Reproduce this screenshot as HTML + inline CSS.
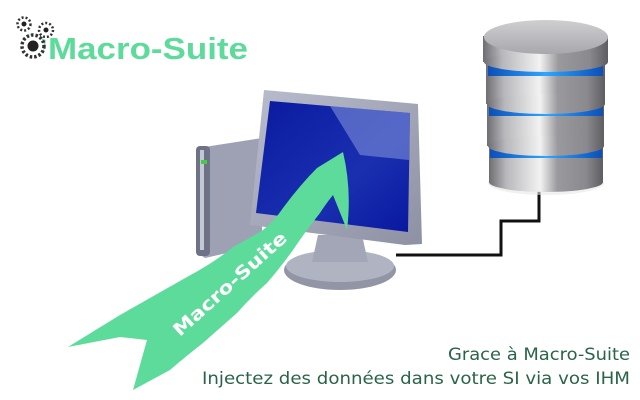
<!DOCTYPE html>
<html><head><meta charset="utf-8"><style>
html,body{margin:0;padding:0;background:#fff;width:640px;height:400px;overflow:hidden}
</style></head><body>
<svg width="640" height="400" viewBox="0 0 640 400" xmlns="http://www.w3.org/2000/svg">
<defs>
<linearGradient id="cyl" x1="0" x2="1" y1="0" y2="0">
<stop offset="0" stop-color="#6e6e72"/><stop offset=".15" stop-color="#b8b8bc"/><stop offset=".45" stop-color="#f2f2f2"/><stop offset=".6" stop-color="#9a9a9e"/><stop offset=".85" stop-color="#8a8a8e"/><stop offset="1" stop-color="#5e5e62"/>
</linearGradient>
<linearGradient id="top" x1="0" x2="0" y1="0" y2="1"><stop offset="0" stop-color="#cfcfd2"/><stop offset="1" stop-color="#a8a8ac"/></linearGradient>
<linearGradient id="blu" x1="0" x2="1"><stop offset="0" stop-color="#0c4fb8"/><stop offset=".5" stop-color="#2fa6ff"/><stop offset="1" stop-color="#0c4fb8"/></linearGradient>
<linearGradient id="scr" x1="0" x2="1" y1="0" y2="1"><stop offset="0" stop-color="#0a1aa0"/><stop offset=".6" stop-color="#1a2fb0"/><stop offset="1" stop-color="#0818a0"/></linearGradient>
<linearGradient id="frm" x1="0" x2="1" y1="0" y2="1"><stop offset="0" stop-color="#b8bccc"/><stop offset="1" stop-color="#8d91a3"/></linearGradient>
</defs>
<!-- logo gears -->
<path d="M30 34 L46 40 L44 52 L26 44Z" fill="#5ddb9a" opacity=".8"/>
<g fill="#222">
<circle cx="33" cy="46" r="11" fill="#fff" stroke="#333" stroke-width="3.5" stroke-dasharray="2.5 2"/>
<circle cx="33" cy="46" r="5.5"/>
<circle cx="24" cy="24" r="6.5" fill="#fff" stroke="#333" stroke-width="2.5" stroke-dasharray="2 2"/>
<circle cx="24" cy="24" r="2.5"/>
<circle cx="46" cy="30" r="7" fill="#fff" stroke="#333" stroke-width="2.5" stroke-dasharray="2 2"/>
<circle cx="46" cy="30" r="2.5"/>
</g>
<text x="48" y="59" font-family="Liberation Sans, sans-serif" font-weight="bold" font-size="31" fill="#5ddb9a" textLength="200" lengthAdjust="spacingAndGlyphs">Macro-Suite</text>
<!-- connector -->
<path d="M396 255 H501 V221 H539 V190" fill="none" stroke="#111" stroke-width="3"/>
<!-- tower -->
<path d="M198 148 L262 138 L262 245 L205 258 L196 252Z" fill="#9da1b3"/>
<rect x="196" y="146" width="14" height="110" rx="4" fill="#6d7286"/>
<rect x="200" y="150" width="4" height="100" fill="#c4c7d4"/>
<rect x="201" y="160" width="6" height="4" fill="#4c4"/>
<!-- stand -->
<ellipse cx="340" cy="270" rx="56" ry="20" fill="#9295a6"/>
<ellipse cx="340" cy="266" rx="54" ry="16" fill="#b0b3c2"/>
<path d="M318 235 L362 235 L368 262 L312 262Z" fill="#a3a6b6"/>
<!-- monitor -->
<path d="M264 90 L418 104 L422 244 L405 245 L250 225Z" fill="url(#frm)"/>
<path d="M270 101 L410 113 L408 232 L256 213Z" fill="url(#scr)"/>
<path d="M330 106 L410 113 L409 160 L360 155Z" fill="#7d8fd8" opacity=".6"/>
<!-- arrow -->
<path d="M68 347 L120 315 Q150 298 187 277 Q215 262 233 247 Q250 238 263 230 Q275 220 283 208 Q300 185 317 168 L343 152 Q352 190 347 230 L333 195 Q325 205 320 213 Q305 232 293 250 Q280 268 267 283 Q250 298 237 313 Q220 328 203 343 Q185 357 170 370 L133 390 L147 340 L120 337 Z" fill="#5ddb9a"/>
<text x="0" y="6" transform="translate(230,284) rotate(-42)" text-anchor="middle" font-family="DejaVu Sans, sans-serif" font-weight="bold" font-size="18" fill="#fff" textLength="146" lengthAdjust="spacingAndGlyphs">Macro-Suite</text>
<!-- database -->
<ellipse cx="546" cy="183" rx="58" ry="12" fill="#e8e8e8" opacity=".6"/>
<rect x="489" y="142" width="114" height="40" fill="url(#cyl)"/>
<ellipse cx="546" cy="182" rx="57" ry="10" fill="url(#cyl)"/>
<rect x="490" y="148" width="112" height="10" fill="url(#blu)"/>
<rect x="487" y="100" width="117" height="46" fill="url(#cyl)"/>
<ellipse cx="546" cy="146" rx="58" ry="10" fill="url(#cyl)"/>
<rect x="489" y="106" width="114" height="10" fill="url(#blu)"/>
<rect x="486" y="58" width="119" height="46" fill="url(#cyl)"/>
<ellipse cx="546" cy="104" rx="59" ry="10" fill="url(#cyl)"/>
<rect x="488" y="64" width="115" height="12" fill="url(#blu)"/>
<rect x="483" y="36" width="125" height="26" fill="url(#cyl)"/>
<ellipse cx="546" cy="62" rx="62" ry="10" fill="url(#cyl)"/>
<ellipse cx="546" cy="37" rx="62" ry="17" fill="url(#top)"/>
<!-- caption -->
<g font-family="DejaVu Sans, sans-serif" font-size="17" fill="#2a6448" text-anchor="end">
<text x="630" y="360" textLength="182" lengthAdjust="spacingAndGlyphs">Grace à Macro-Suite</text>
<text x="630" y="384" textLength="428" lengthAdjust="spacingAndGlyphs">Injectez des données dans votre SI via vos IHM</text>
</g>
</svg>
</body></html>
